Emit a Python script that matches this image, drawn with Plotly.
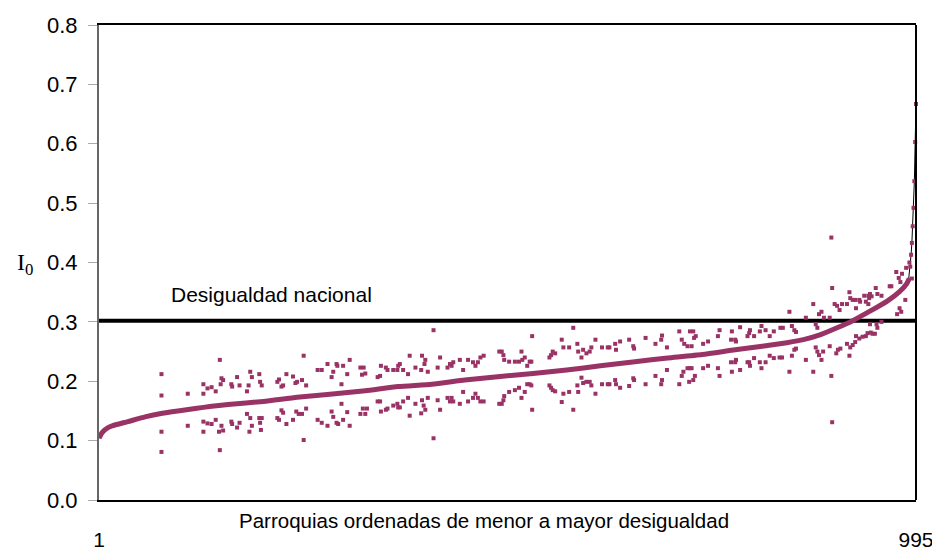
import plotly.graph_objects as go

# ---------------- data ----------------
NATIONAL = 0.302
N_PARROQUIAS = 995
X_TICK_VALS = [1, 995]
X_TICK_TEXT = ["1", "995"]
Y_TICK_VALS = [0.0, 0.1, 0.2, 0.3, 0.4, 0.5, 0.6, 0.7, 0.8]

# sorted curve (index, value)
CURVE_IDX = [1, 4, 8, 12, 17, 36, 57, 78, 97, 118, 138, 158, 201, 242, 282, 325, 365,
             406, 446, 489, 529, 570, 611, 653, 693, 735, 775, 808, 838, 858, 878, 899,
             918, 939, 960, 975, 984, 986]
CURVE_VAL = [0.104, 0.112, 0.118, 0.122, 0.125, 0.132, 0.140, 0.146, 0.150, 0.154,
             0.158, 0.161, 0.166, 0.173, 0.178, 0.184, 0.191, 0.195, 0.202, 0.208,
             0.213, 0.219, 0.226, 0.233, 0.239, 0.245, 0.253, 0.259, 0.265, 0.270,
             0.278, 0.290, 0.302, 0.318, 0.335, 0.351, 0.365, 0.371]
# top tail of the sorted curve
TAIL_IDX = [986, 988, 989, 990, 991, 992, 993, 994, 995]
TAIL_VAL = [0.371, 0.393, 0.413, 0.433, 0.461, 0.492, 0.537, 0.603, 0.667]

# scattered points (index, value)
SCATTER = [
    (77, .212), (77, .176), (77, .115), (77, .081), (109, .179), (109, .125),
    (128, .195), (128, .179), (128, .132), (128, .115), (133, .188), (138, .190),
    (133, .129), (138, .128), (143, .183), (143, .135), (148, .236), (148, .084),
    (150, .205), (152, .202), (149, .195), (150, .125), (152, .117), (147, .115),
    (162, .195), (163, .191), (162, .132), (163, .128),
    (169, .207), (172, .193), (183, .193), (181, .183), (185, .216), (187, .207),
    (196, .212), (197, .199), (199, .193), (218, .199), (220, .203), (223, .191),
    (225, .193), (229, .212), (237, .208), (240, .197), (242, .199), (248, .202),
    (253, .193), (250, .243), (267, .219), (272, .219), (279, .229), (284, .207),
    (286, .216), (290, .229), (291, .226), (296, .195), (298, .226), (303, .212),
    (306, .236), (319, .223), (323, .223), (321, .211), (325, .213),
    (172, .130), (169, .122), (181, .145), (185, .138), (187, .125), (184, .115),
    (196, .138), (199, .138), (197, .130), (198, .118), (218, .138), (223, .151),
    (225, .147), (220, .135), (229, .128), (237, .135), (241, .149), (244, .145),
    (248, .145), (253, .154), (250, .101), (267, .135), (272, .130), (279, .125),
    (284, .149), (286, .140), (290, .130), (292, .128), (296, .162), (298, .135),
    (303, .148), (306, .125), (319, .145), (322, .154), (325, .145), (327, .154),
    (340, .207), (343, .209), (344, .226), (350, .223), (352, .219), (359, .219),
    (364, .219), (365, .226), (367, .229), (371, .219), (377, .212), (379, .243),
    (386, .223), (394, .243), (393, .219), (397, .229), (398, .236), (401, .216),
    (408, .286), (413, .223), (416, .240), (425, .223), (428, .229), (430, .226),
    (432, .232), (440, .236), (444, .219), (450, .236), (456, .232), (459, .226),
    (462, .232), (465, .240), (469, .243), (488, .250), (491, .250), (493, .244),
    (494, .236),
    (340, .166), (343, .166), (344, .149), (350, .152), (352, .154), (359, .159),
    (364, .162), (365, .156), (367, .156), (371, .166), (377, .172), (379, .142),
    (386, .162), (394, .168), (393, .146), (396, .159), (398, .152), (401, .172),
    (408, .104), (413, .168), (416, .152), (425, .172), (428, .166), (430, .172),
    (432, .166), (440, .162), (444, .182), (450, .166), (456, .172), (459, .179),
    (462, .172), (465, .166), (469, .166), (488, .162), (491, .162), (493, .168),
    (494, .175),
    (500, .233), (507, .233), (512, .233), (515, .250), (516, .236), (519, .240),
    (522, .226), (525, .233), (527, .233), (528, .276), (549, .240), (551, .244),
    (553, .250), (556, .247), (564, .270), (566, .257), (573, .257), (578, .290),
    (583, .263), (584, .250), (588, .240), (590, .253), (594, .247), (598, .250),
    (600, .257), (605, .270), (613, .257), (620, .257), (622, .257), (629, .263),
    (630, .253), (635, .267), (646, .270), (651, .259), (652, .255),
    (500, .182), (507, .185), (512, .189), (515, .172), (519, .182), (522, .195),
    (525, .195), (527, .193), (528, .152), (549, .193), (551, .189), (553, .185),
    (556, .183), (564, .165), (566, .179), (573, .182), (578, .152), (583, .193),
    (584, .182), (588, .206), (590, .197), (594, .199), (598, .199), (600, .193),
    (605, .179), (613, .195), (620, .195), (622, .195), (629, .202), (630, .195),
    (635, .189), (646, .192), (651, .205), (652, .202),
    (666, .273), (678, .263), (686, .277), (685, .270), (692, .257), (707, .284),
    (710, .270), (713, .263), (717, .259), (720, .284), (722, .259), (724, .284),
    (725, .273), (727, .276), (736, .263), (742, .267), (754, .276), (756, .286),
    (771, .284), (770, .270), (776, .267), (775, .270), (781, .291), (790, .276),
    (793, .286), (792, .281), (798, .276), (805, .284), (807, .293), (812, .286),
    (817, .276), (822, .284),
    (666, .195), (678, .209), (686, .202), (685, .195), (692, .219), (707, .195),
    (710, .209), (712, .216), (717, .222), (720, .222), (722, .222), (719, .199),
    (724, .202), (726, .209), (736, .222), (742, .226), (754, .222), (756, .209),
    (771, .216), (770, .232), (776, .236), (775, .232), (781, .219), (790, .232),
    (793, .226), (792, .232), (798, .239), (805, .232), (807, .222), (812, .232),
    (817, .243), (822, .239),
    (830, .290), (833, .290), (841, .317), (844, .293), (847, .286), (849, .283),
    (861, .307), (870, .330), (873, .296), (875, .290), (877, .313), (880, .317),
    (883, .307), (890, .307), (892, .442), (893, .357), (896, .330), (899, .327),
    (902, .320), (905, .330), (911, .330), (914, .350), (915, .340), (918, .337),
    (921, .337), (922, .323), (926, .337), (927, .334), (932, .344), (934, .334),
    (937, .344), (938, .340), (939, .347), (941, .343), (937, .330), (946, .357),
    (948, .347), (953, .344), (963, .360), (965, .360), (971, .384), (974, .374),
    (976, .367), (978, .381), (983, .391), (987, .400), (990, .373), (982, .337),
    (975, .323), (977, .317), (972, .313),
    (829, .240), (832, .240), (841, .216), (844, .243), (847, .253), (849, .255),
    (861, .236), (870, .216), (873, .257), (875, .250), (877, .244), (880, .236),
    (882, .250), (890, .259), (892, .209), (893, .131), (898, .247), (900, .253),
    (903, .255), (911, .263), (914, .243), (915, .257), (918, .261), (921, .266),
    (922, .276), (926, .272), (930, .275), (934, .276), (936, .281), (940, .282),
    (942, .280), (945, .280), (939, .296), (947, .296), (948, .290), (953, .300),
]
SCATTER_IDX = [p[0] for p in SCATTER]
SCATTER_VAL = [p[1] for p in SCATTER]

# ---------------- styling ----------------
PLUM = "#993366"
FONT = "Liberation Sans, Arial, sans-serif"

fig = go.Figure()

# national inequality line
fig.add_trace(go.Scatter(x=[1, N_PARROQUIAS + 3], y=[NATIONAL, NATIONAL], mode="lines",
                         line=dict(color="black", width=4), hoverinfo="skip",
                         cliponaxis=False))
# thin black connector of the sorted series
fig.add_trace(go.Scatter(x=CURVE_IDX + TAIL_IDX[1:], y=CURVE_VAL + TAIL_VAL[1:], mode="lines",
                         line=dict(color="black", width=1), hoverinfo="skip",
                         cliponaxis=False))
# sorted curve body (dense markers in the original)
fig.add_trace(go.Scatter(x=CURVE_IDX, y=CURVE_VAL, mode="lines",
                         line=dict(color=PLUM, width=5, shape="spline", smoothing=0.5),
                         cliponaxis=False))
# tail points
fig.add_trace(go.Scatter(x=TAIL_IDX, y=TAIL_VAL, mode="markers",
                         marker=dict(color=PLUM, size=4, symbol="square"),
                         cliponaxis=False))
# scattered points
fig.add_trace(go.Scatter(x=SCATTER_IDX, y=SCATTER_VAL, mode="markers",
                         marker=dict(color=PLUM, size=4, symbol="square"),
                         cliponaxis=False))

# the page adds an 8px body margin, so the figure is sized to fit inside the window
fig.update_layout(
    width=932, height=544,
    margin=dict(l=91, r=24, t=17, b=52),
    paper_bgcolor="white", plot_bgcolor="white",
    showlegend=False,
    font=dict(family=FONT, size=21, color="black"),
    xaxis=dict(range=[1, N_PARROQUIAS], showgrid=False, zeroline=False, automargin=False,
               showline=True, linecolor="black", linewidth=2, mirror=True,
               tickvals=X_TICK_VALS, ticktext=X_TICK_TEXT, ticks="",
               ticklabelstandoff=20, ticklabeloverflow="allow", tickfont=dict(size=21)),
    yaxis=dict(range=[0, 0.8], showgrid=False, zeroline=False, automargin=False,
               showline=True, linecolor="#666666", linewidth=2,
               tickvals=Y_TICK_VALS, tickformat=".1f", ticks="outside",
               ticklen=9, tickcolor="#aaaaaa", tickwidth=1,
               ticklabelstandoff=6, tickfont=dict(size=22)),
    shapes=[dict(type="line", xref="paper", yref="paper", x0=1, x1=1, y0=0, y1=1,
                 line=dict(color="black", width=2))],
    annotations=[
        dict(text="Parroquias ordenadas de menor a mayor desigualdad", xref="paper",
             yref="paper", x=0.471, y=-0.044, xanchor="center", yanchor="middle",
             showarrow=False, font=dict(size=20.5)),
        dict(text="Desigualdad nacional", xref="x", yref="y", x=86, y=NATIONAL + 0.021,
             xanchor="left", yanchor="bottom", showarrow=False, font=dict(size=21)),
        dict(text="I<sub>0</sub>", xref="paper", yref="paper", x=-0.091, y=0.497,
             xanchor="center", yanchor="middle", showarrow=False,
             font=dict(family="Liberation Serif, Times New Roman, serif", size=24)),
    ],
)

fig.write_html("out.html")
